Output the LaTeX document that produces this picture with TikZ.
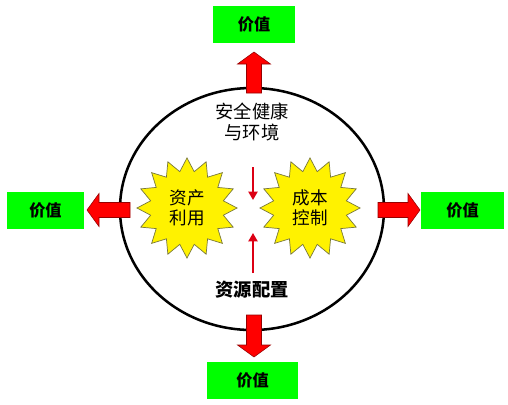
\documentclass[tikz,border=0pt]{standalone}
\usepackage{fontspec}
\setmainfont{Noto Sans CJK SC}
\usepackage{tikz}
\usetikzlibrary{shapes.geometric,arrows.meta}

\definecolor{valgreen}{RGB}{0,255,0}
\definecolor{blockred}{RGB}{255,0,0}
\definecolor{edgered}{RGB}{150,0,0}
\definecolor{starline}{RGB}{120,120,60}
\definecolor{thinred}{RGB}{220,0,20}

\tikzset{
  valbox/.style={fill=valgreen, minimum width=2.05cm, minimum height=0.925cm,
    inner sep=0pt, font=\fontsize{11.5}{13}\selectfont\bfseries},
  burst/.style={star, star points=16, star point ratio=1.35, minimum size=2.5cm,
    inner sep=0pt, fill=yellow, draw=starline, line width=0.5pt, align=center,
    font=\fontsize{12.5}{14.5}\selectfont},
  pics/blockarrow/.style={code={
    \filldraw[fill=blockred, draw=edgered, line width=0.4pt]
      (0,-7.5) -- (#1-12,-7.5) -- (#1-12,-16.5) -- (#1,0) -- (#1-12,16.5)
      -- (#1-12,7.5) -- (0,7.5) -- cycle;
  }},
}

\begin{document}
\begin{tikzpicture}[x=0.025cm, y=-0.025cm]
    \useasboundingbox (0,0) rectangle (508,404);
    % the circle
    \draw[line width=1.8pt] (252,209) ellipse [x radius=132, y radius=121];
    % value boxes
    \node[valbox] (vtop) at (254,24.5) {价值};
    \node[valbox, minimum width=2.25cm] (vbot) at (252.5,380) {价值};
    \node[valbox, minimum width=1.9cm] (vleft) at (45.5,210.5) {价值};
    \node[valbox] (vright) at (462.5,210.5) {价值};
    % block arrows
    \coordinate (tailN) at (254,93);
    \coordinate (tailS) at (254,315);
    \coordinate (tailW) at (130,210);
    \coordinate (tailE) at (378,210);
    \pic[rotate=90] at (tailN) {blockarrow=41};
    \pic[rotate=270] at (tailS) {blockarrow=42};
    \pic[rotate=180] at (tailW) {blockarrow=43};
    \pic at (tailE) {blockarrow=42};
    % stars
    \node[burst] (asset) at (187,208) {资产\\利用};
    \node[burst] (cost) at (310,208) {成本\\控制};
    % labels
    \node[align=center, font=\fontsize{13}{15}\selectfont] (hse) at (252,122) {安全健康\\与环境};
    \node[font=\fontsize{13}{15}\selectfont\bfseries] (alloc) at (252,290) {资源配置};
    % small arrows
    \coordinate (dnA) at (253,167);
    \coordinate (dnB) at (253,200);
    \coordinate (upA) at (253,273);
    \coordinate (upB) at (253,233);
    \draw[thinred, line width=1.4pt, -{Triangle[length=6pt, width=6.5pt]}] (dnA) -- (dnB);
    \draw[thinred, line width=1.4pt, -{Triangle[length=6pt, width=6.5pt]}] (upA) -- (upB);
  \end{tikzpicture}
\end{document}
